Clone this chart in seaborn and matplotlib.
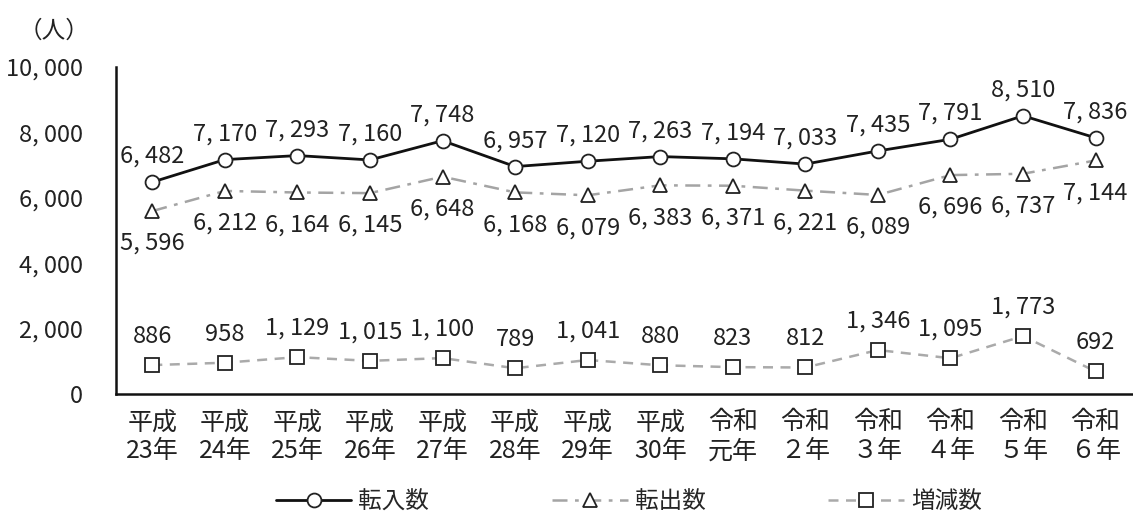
import numpy as np
import pandas as pd
import seaborn as sns
import matplotlib.pyplot as plt
from matplotlib.lines import Line2D

# data
years = ["平成\n23年", "平成\n24年", "平成\n25年", "平成\n26年", "平成\n27年",
         "平成\n28年", "平成\n29年", "平成\n30年", "令和\n元年", "令和\n２年",
         "令和\n３年", "令和\n４年", "令和\n５年", "令和\n６年"]
tennyu = [6482, 7170, 7293, 7160, 7748, 6957, 7120, 7263, 7194, 7033, 7435, 7791, 8510, 7836]
tenshutsu = [5596, 6212, 6164, 6145, 6648, 6168, 6079, 6383, 6371, 6221, 6089, 6696, 6737, 7144]
zougen = [886, 958, 1129, 1015, 1100, 789, 1041, 880, 823, 812, 1346, 1095, 1773, 692]
series_names = ["転入数", "転出数", "増減数"]

sns.set_style("white")
plt.rcParams['font.family'] = ['Noto Sans CJK JP', 'DejaVu Sans']

def fmt(v):
    return f"{v:,}".replace(",", ", ")

df = pd.DataFrame({"x": np.arange(len(years)),
                   "転入数": tennyu, "転出数": tenshutsu, "増減数": zougen})

fig = plt.figure(figsize=(11.33, 5.24), dpi=100)
ax = fig.add_axes([0.1024, 0.248, 0.8966, 0.624])

txt = "#222222"
styles = {
    "転入数": dict(color="#111111", linestyle="-", marker="o", lw=2.0),
    "転出数": dict(color="#a4a4a4", linestyle=(0, (6, 3, 1.5, 3)), marker="^", lw=1.8),
    "増減数": dict(color="#aaaaaa", linestyle=(0, (4, 3)), marker="s", lw=1.8),
}

for name in series_names:
    st = styles[name]
    sns.lineplot(data=df, x="x", y=name, ax=ax, color=st["color"], linestyle=st["linestyle"],
                 linewidth=st["lw"], marker=st["marker"], markersize=10,
                 markerfacecolor="white", markeredgecolor="#222222", markeredgewidth=1.3)

# value labels
for i, v in enumerate(tennyu):
    ax.annotate(fmt(v), (i, v), xytext=(0, 14), textcoords="offset points",
                ha="center", va="baseline", fontsize=17, color=txt)
for i, v in enumerate(tenshutsu):
    ax.annotate(fmt(v), (i, v), xytext=(0, -28), textcoords="offset points",
                ha="center", va="baseline", fontsize=17, color=txt)
for i, v in enumerate(zougen):
    ax.annotate(fmt(v), (i, v), xytext=(0, 16), textcoords="offset points",
                ha="center", va="baseline", fontsize=17, color=txt)

ax.set_xlim(-0.5, len(years) - 0.5)
ax.set_ylim(0, 10000)
ax.set_yticks(np.arange(0, 10001, 2000))
ax.set_yticklabels([fmt(v) for v in range(0, 10001, 2000)], fontsize=17, color=txt)
ax.tick_params(axis="y", direction="in", length=6, width=1.8, pad=24)

ax.set_xticks(np.arange(0.5, len(years), 1.0))
ax.set_xticklabels([])
ax.tick_params(axis="x", which="major", direction="in", length=7, width=1.8)
ax.set_xticks(np.arange(len(years)), minor=True)
ax.set_xticklabels(years, minor=True, fontsize=18, color=txt, linespacing=1.15)
ax.tick_params(axis="x", which="minor", length=0, pad=11)

ax.set_xlabel("")
ax.set_ylabel("")
for s in ["top", "right"]:
    ax.spines[s].set_visible(False)
for s in ["left", "bottom"]:
    ax.spines[s].set_linewidth(1.8)
    ax.spines[s].set_color("#111111")

fig.text(0.016, 0.94, "（人）", fontsize=17, color=txt, ha="left", va="center")

handles = [Line2D([], [], color=styles[n]["color"], linestyle=styles[n]["linestyle"],
                  linewidth=styles[n]["lw"], marker=styles[n]["marker"], markersize=10,
                  markerfacecolor="white", markeredgecolor="#222222", markeredgewidth=1.3)
           for n in series_names]
fig.legend(handles, series_names, loc="lower center", bbox_to_anchor=(0.555, -0.02),
           ncol=3, frameon=False, fontsize=17, handlelength=3.2, columnspacing=5.2,
           handletextpad=0.3)

fig.savefig("out.png", dpi=100)
